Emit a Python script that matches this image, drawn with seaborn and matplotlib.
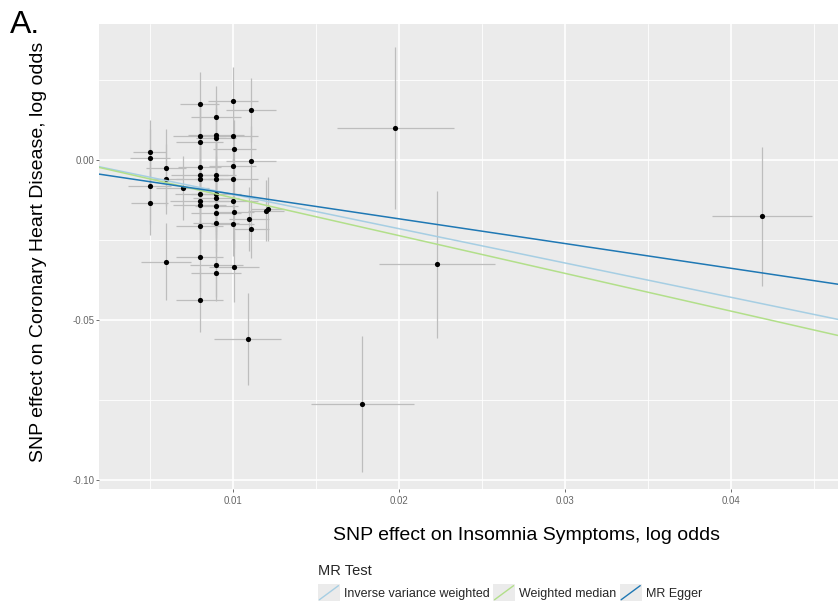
import matplotlib
matplotlib.use("Agg")
import matplotlib.pyplot as plt
import numpy as np
import pandas as pd
import seaborn as sns
from matplotlib.lines import Line2D
from matplotlib.patches import Rectangle
from matplotlib.legend_handler import HandlerBase
from matplotlib.ticker import MultipleLocator
from matplotlib import font_manager

# ---------------- data ----------------
snp_exposure = [0.0050, 0.0050, 0.0080, 0.0100, 0.0111, 0.0090, 0.0080, 0.0080, 0.0090, 0.0090,
                0.0100, 0.0101, 0.0111, 0.0060, 0.0080, 0.0100, 0.0060, 0.0050, 0.0070, 0.0080,
                0.0080, 0.0090, 0.0090, 0.0100, 0.0080, 0.0050, 0.0080, 0.0080, 0.0090, 0.0090,
                0.0090, 0.0090, 0.0090, 0.0100, 0.0101, 0.0100, 0.0080, 0.0110, 0.0111, 0.0120,
                0.0121, 0.0080, 0.0060, 0.0090, 0.0101, 0.0090, 0.0080, 0.0109, 0.0198, 0.0223,
                0.0178, 0.0419]
snp_outcome = [0.0026, 0.0007, 0.0175, 0.0185, 0.0156, 0.0135, 0.0075, 0.0057, 0.0078, 0.0068,
               0.0075, 0.0035, -0.0003, -0.0024, -0.0021, -0.0019, -0.0059, -0.0081, -0.0089, -0.0047,
               -0.0060, -0.0047, -0.0060, -0.0059, -0.0106, -0.0133, -0.0127, -0.0141, -0.0106, -0.0120,
               -0.0144, -0.0167, -0.0196, -0.0127, -0.0164, -0.0201, -0.0206, -0.0185, -0.0216, -0.0158,
               -0.0153, -0.0302, -0.0318, -0.0328, -0.0333, -0.0352, -0.0438, -0.0559, 0.0100, -0.0326,
               -0.0762, -0.0176]
se_exposure = [0.0010, 0.0012, 0.0012, 0.0015, 0.0015, 0.0015, 0.0016, 0.0014, 0.0017, 0.0012,
               0.0015, 0.0013, 0.0015, 0.0012, 0.0013, 0.0014, 0.0010, 0.0013, 0.0016, 0.0017,
               0.0014, 0.0012, 0.0013, 0.0015, 0.0015, 0.0011, 0.0018, 0.0016, 0.0015, 0.0014,
               0.0013, 0.0015, 0.0014, 0.0015, 0.0012, 0.0013, 0.0014, 0.0012, 0.0011, 0.0011,
               0.0010, 0.0014, 0.0015, 0.0016, 0.0015, 0.0015, 0.0014, 0.0020, 0.0035, 0.0035,
               0.0031, 0.0030]
se_outcome = [0.0100, 0.0090, 0.0100, 0.0106, 0.0099, 0.0096, 0.0110, 0.0120, 0.0105, 0.0095,
              0.0100, 0.0090, 0.0110, 0.0120, 0.0100, 0.0095, 0.0110, 0.0120, 0.0100, 0.0090,
              0.0110, 0.0100, 0.0120, 0.0090, 0.0110, 0.0100, 0.0100, 0.0110, 0.0120, 0.0110,
              0.0100, 0.0100, 0.0090, 0.0120, 0.0110, 0.0100, 0.0100, 0.0100, 0.0090, 0.0095,
              0.0100, 0.0110, 0.0120, 0.0100, 0.0110, 0.0090, 0.0100, 0.0143, 0.0253, 0.0229,
              0.0212, 0.0218]

methods = ["Inverse variance weighted", "Weighted median", "MR Egger"]
method_slopes = [-1.072, -1.180, -0.773]
method_intercepts = [0.0, 0.0, -0.0029]
method_colors = ["#a6cee3", "#b2df8a", "#1f78b4"]

x_ticks = [0.01, 0.02, 0.03, 0.04]
x_tick_labels = ["0.01", "0.02", "0.03", "0.04"]
y_ticks = [-0.10, -0.05, 0.00]
y_tick_labels = ["-0.10", "-0.05", "0.00"]

# ---------------- style ----------------
sns.set_theme(style="darkgrid")
plt.rcParams["font.family"] = ["Liberation Sans", "DejaVu Sans"]

names = {f.name for f in font_manager.fontManager.ttflist}
tick_family = ["Liberation Sans Narrow", "Liberation Sans"] if "Liberation Sans Narrow" in names else ["Liberation Sans"]

W, H = 838, 610
fig = plt.figure(figsize=(W / 100, H / 100), dpi=100)
fig.patch.set_facecolor("white")
ax = fig.add_axes([99 / W, 121 / H, 739 / W, 465 / H])
ax.set_facecolor("#EBEBEB")
for s in ax.spines.values():
    s.set_visible(False)

df = pd.DataFrame({"x": snp_exposure, "y": snp_outcome,
                   "sx": se_exposure, "sy": se_outcome})

ax.errorbar(df["x"], df["y"], xerr=df["sx"], yerr=df["sy"], fmt="none",
            ecolor="#BDBDBD", elinewidth=0.9, capsize=0, zorder=2)
sns.scatterplot(data=df, x="x", y="y", color="black", s=14, linewidth=0,
                ax=ax, zorder=3, legend=False)

for m, b, a, c in zip(methods, method_slopes, method_intercepts, method_colors):
    ax.axline((0, a), slope=b, color=c, lw=1.1, zorder=4)

ax.set_xlim(0.001946, 0.04646)
ax.set_ylim(-0.1028, 0.0425)
ax.set_xticks(x_ticks)
ax.set_xticklabels(x_tick_labels)
ax.set_yticks(y_ticks)
ax.set_yticklabels(y_tick_labels)
ax.xaxis.set_minor_locator(MultipleLocator(0.005))
ax.yaxis.set_minor_locator(MultipleLocator(0.025))
ax.grid(which="major", color="white", lw=1.2)
ax.grid(which="minor", color="white", lw=0.6)
ax.set_axisbelow(True)
ax.tick_params(which="major", length=2.5, width=0.6, color="#555555",
               labelsize=7, labelcolor="#666666", bottom=True, left=True)
ax.tick_params(axis="y", pad=1)
ax.tick_params(axis="x", pad=2.5)
ax.tick_params(which="minor", length=0)
for lab in ax.get_xticklabels() + ax.get_yticklabels():
    lab.set_family(tick_family)
ax.set_xlabel("")
ax.set_ylabel("")

fig.text(526 / W, 1 - 535 / H, "SNP effect on Insomnia Symptoms, log odds",
         fontsize=14, ha="center", va="center", color="black")
fig.text(39 / W, 1 - 252 / H, "SNP effect on Coronary Heart Disease, log odds",
         fontsize=14, ha="center", va="center", rotation=90, color="black")
fig.text(10 / W, 1 - 33 / H, "A.", fontsize=23, ha="left", va="baseline", color="black")


class DiagHandler(HandlerBase):
    def create_artists(self, legend, orig_handle, xdescent, ydescent, width, height,
                       fontsize, trans):
        x0, y0 = -xdescent, -ydescent
        bg = Rectangle((x0, y0), width, height, facecolor="#EBEBEB",
                       edgecolor="none", transform=trans)
        ln = Line2D([x0 + 1, x0 + width - 1], [y0 + 1, y0 + height - 1],
                    color=orig_handle.get_color(), lw=1.0, transform=trans)
        return [bg, ln]


handles = [Line2D([], [], color=c) for c in method_colors]
leg = fig.legend(handles, methods, title="MR Test", loc="upper left",
                 bbox_to_anchor=(318 / W, 1 - 564 / H), bbox_transform=fig.transFigure,
                 ncol=3, frameon=False, handler_map={Line2D: DiagHandler()},
                 handlelength=1.75, handleheight=1.7, handletextpad=0.35,
                 columnspacing=0.25, borderpad=0, borderaxespad=0,
                 fontsize=9, title_fontsize=10.5, alignment="left")

fig.savefig("out.png", dpi=100)
